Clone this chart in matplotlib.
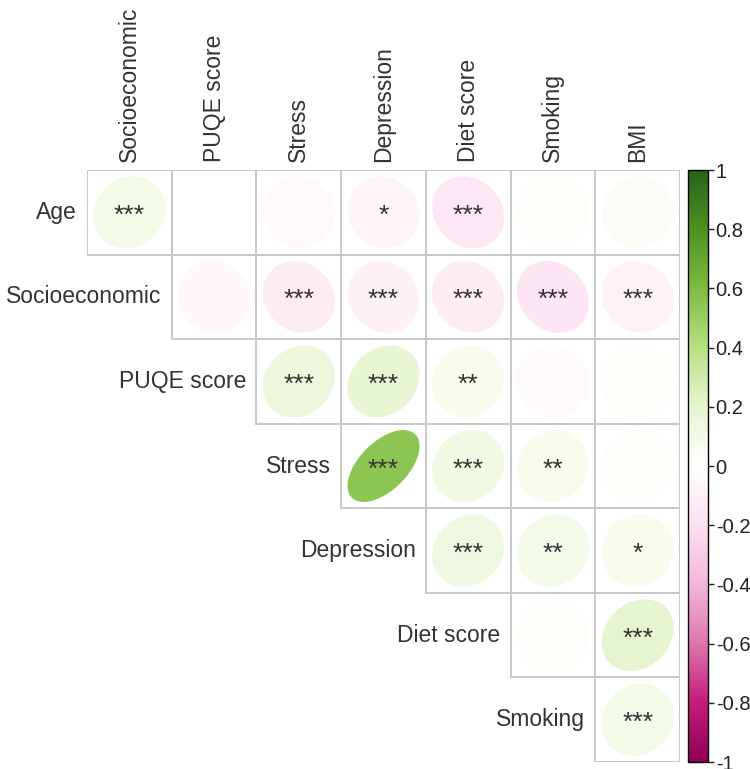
import numpy as np
import matplotlib
matplotlib.use('agg')
import matplotlib.pyplot as plt
from matplotlib.patches import Rectangle
from matplotlib.colors import Normalize, LinearSegmentedColormap
from matplotlib.cm import ScalarMappable

plt.rcParams['font.family'] = ['Liberation Sans', 'DejaVu Sans']

row_labels = ["Age", "Socioeconomic", "PUQE score", "Stress", "Depression", "Diet score", "Smoking"]
col_labels = ["Socioeconomic", "PUQE score", "Stress", "Depression", "Diet score", "Smoking", "BMI"]

# upper triangle correlations, row i holds columns i..6
corr_rows = [
    [0.10, 0.00, -0.04, -0.07, -0.15, 0.02, 0.04],
    [-0.05, -0.12, -0.10, -0.12, -0.17, -0.08],
    [0.15, 0.18, 0.07, -0.03, 0.03],
    [0.55, 0.12, 0.07, 0.02],
    [0.13, 0.10, 0.07],
    [0.03, 0.20],
    [0.10],
]
stars_rows = [
    ["***", "", "", "*", "***", "", ""],
    ["", "***", "***", "***", "***", "***"],
    ["***", "***", "**", "", ""],
    ["***", "***", "**", ""],
    ["***", "**", "*"],
    ["", "***"],
    ["***"],
]

# corrplot's PiYG palette
pal = ["#8E0152", "#C51B7D", "#DE77AE", "#F1B6DA", "#FDE0EF", "#FFFFFF",
       "#E6F5D0", "#B8E186", "#7FBC41", "#4D9221", "#276419"]
cmap = LinearSegmentedColormap.from_list('piyg2', pal)
norm = Normalize(-1, 1)
n = len(col_labels)

fig = plt.figure(figsize=(7.5, 7.69), dpi=100)
W, H = 750, 769
x0, x1, ytop, ybot = 87, 680, 170, 762
ax = fig.add_axes([x0 / W, (H - ybot) / H, (x1 - x0) / W, (ybot - ytop) / H])
ax.set_xlim(-0.5, n - 0.5)
ax.set_ylim(n - 0.5, -0.5)
ax.axis('off')

k = np.linspace(0, 2 * np.pi, 99)
for i in range(n):
    for jj, r in enumerate(corr_rows[i]):
        j = i + jj
        ax.add_patch(Rectangle((j - 0.5, i - 0.5), 1, 1, facecolor='none',
                               edgecolor='#c8c8c8', lw=1.4, zorder=1))
        a = np.arccos(r)
        ex = 0.85 * np.cos(k + a / 2) / 2
        ey = 0.85 * np.cos(k - a / 2) / 2
        ax.fill(j + ex, i - ey, color=cmap(norm(r)), lw=0, zorder=2)
        s = stars_rows[i][jj]
        if s:
            ax.text(j, i + 0.04, s, ha='center', va='center', fontsize=19,
                    color='#333333', zorder=3)
    ax.text(i - 0.62, i, row_labels[i], ha='right', va='center', fontsize=16.5,
            color='#333333', clip_on=False)

for j, lab in enumerate(col_labels):
    ax.text(j, -0.6, lab, ha='center', va='bottom', rotation=90, fontsize=16.5,
            color='#333333', clip_on=False)

cax = fig.add_axes([688 / W, (H - ybot) / H, 20 / W, (ybot - ytop) / H])
cb = fig.colorbar(ScalarMappable(norm=norm, cmap=cmap), cax=cax)
cb.set_ticks(np.round(np.arange(-1, 1.01, 0.2), 1))
cb.set_ticklabels(['-1', '-0.8', '-0.6', '-0.4', '-0.2', '0', '0.2', '0.4', '0.6', '0.8', '1'])
cax.tick_params(labelsize=14.5, length=4, width=1, pad=1.5, colors='#222222')
cb.outline.set_linewidth(1)

fig.savefig('out.png', dpi=100)
